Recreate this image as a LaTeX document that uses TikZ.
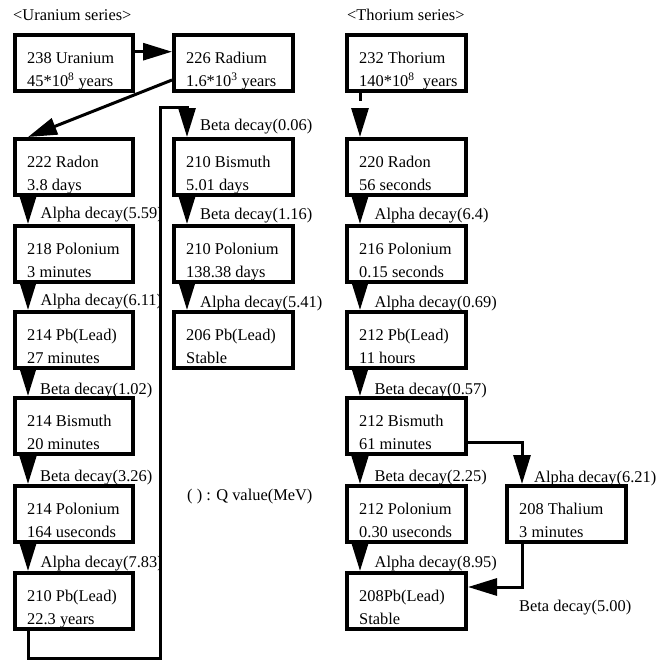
\documentclass[tikz,border=0pt]{standalone}
\usepackage{fontspec}
\setmainfont{Liberation Serif}
\usetikzlibrary{arrows.meta,calc}
\newcommand\nucbox[6]{%
  \node[box, minimum width=#4] (#1) at (#2,#3) {};
  \node[txt] (#1-a) at ($(#1.north west)+(14,30.5)$) {#5};
  \node[txt] (#1-b) at ($(#1.north west)+(14,53.5)$) {#6};
}
\newcommand\vdown[3]{\draw[conn] ($(#1.south west)+(#3,0)$) -- ($(#2.north west)+(#3,0)$);}
\begin{document}
\begin{tikzpicture}[x=1pt,y=-1pt,
  box/.style={draw, line width=4pt, outer sep=2pt, inner sep=0pt, anchor=north west, minimum height=56pt},
  txt/.style={inner sep=0pt, anchor=base west, font=\fontsize{16.4}{19}\selectfont},
  conn/.style={line width=3pt, -{Triangle[length=29pt,width=17pt]}, line join=miter},
]
\useasboundingbox (0,0) rectangle (656,662);

% headers
\node[txt] (hu) at (13,20.5) {<Uranium series>};
\node[txt] (ht) at (347,20.5) {<Thorium series>};

% uranium series
\nucbox{u238}{13}{33}{118}{238 Uranium}{45*10\textsuperscript{8} years}
\nucbox{rn222}{13}{137}{118}{222 Radon}{3.8 days}
\nucbox{po218}{13}{224}{118}{218 Polonium}{3 minutes}
\nucbox{pb214}{13}{310}{118}{214 Pb(Lead)}{27 minutes}
\nucbox{bi214}{13}{396}{118}{214 Bismuth}{20 minutes}
\nucbox{po214}{13}{484}{118}{214 Polonium}{164 useconds}
\nucbox{pb210}{13}{571}{118}{210 Pb(Lead)}{22.3 years}
\nucbox{ra226}{172}{33}{119}{226 Radium}{1.6*10\textsuperscript{3} years}
\nucbox{bi210}{172}{137}{119}{210 Bismuth}{5.01 days}
\nucbox{po210}{172}{224}{119}{210 Polonium}{138.38 days}
\nucbox{pb206}{172}{310}{119}{206 Pb(Lead)}{Stable}

% thorium series
\nucbox{th232}{345}{33}{119}{232 Thorium}{140*10\textsuperscript{8} \ years}
\nucbox{rn220}{345}{137}{119}{220 Radon}{56 seconds}
\nucbox{po216}{345}{224}{119}{216 Polonium}{0.15 seconds}
\nucbox{pb212}{345}{310}{119}{212 Pb(Lead)}{11 hours}
\nucbox{bi212}{345}{396}{119}{212 Bismuth}{61 minutes}
\nucbox{po212}{345}{484}{119}{212 Polonium}{0.30 useconds}
\nucbox{pb208}{345}{571}{119}{208Pb(Lead)}{Stable}
\nucbox{tl208}{505}{484}{119}{208 Thalium}{3 minutes}

% labels
\node[txt] (l1) at (40.5,218) {Alpha decay(5.59)};
\node[txt] (l2) at (40.5,305) {Alpha decay(6.11)};
\node[txt] (l3) at (40,394) {Beta decay(1.02)};
\node[txt] (l4) at (40,481.5) {Beta decay(3.26)};
\node[txt] (l5) at (40.5,567) {Alpha decay(7.83)};
\node[txt] (l6) at (200,130) {Beta decay(0.06)};
\node[txt] (l7) at (200,219) {Beta decay(1.16)};
\node[txt] (l8) at (200,307.5) {Alpha decay(5.41)};
\node[txt] (l9) at (374.5,219.5) {Alpha decay(6.4)};
\node[txt] (l10) at (374.5,307) {Alpha decay(0.69)};
\node[txt] (l11) at (374.5,394) {Beta decay(0.57)};
\node[txt] (l12) at (374.5,481.5) {Beta decay(2.25)};
\node[txt] (l13) at (374.5,567.5) {Alpha decay(8.95)};
\node[txt] (l14) at (534,482) {Alpha decay(6.21)};
\node[txt] (l15) at (519,611.5) {Beta decay(5.00)};
\node[txt] (note) at (187,500.5) {( ) : Q value(MeV)};

% connectors
\draw[conn] ($(u238.north east)+(0,18.7)$) -- ($(ra226.north west)+(0,18.7)$);
\draw[conn] ($(ra226.north west)+(0,47)$) -- ($(rn222.north west)+(15,0)$);
\vdown{rn222}{po218}{15}
\vdown{po218}{pb214}{15}
\vdown{pb214}{bi214}{15}
\vdown{bi214}{po214}{15}
\vdown{po214}{pb210}{15}
\vdown{bi210}{po210}{15}
\vdown{po210}{pb206}{15}
\coordinate (loopturn) at (160,107);
\draw[conn] ($(pb210.south west)+(15,0)$) -- ++(0,27) -| (loopturn) -| ($(bi210.north west)+(15,0)$);
\draw[conn, dash pattern=on 8pt off 30pt] ($(th232.south west)+(15,0)$) -- ($(rn220.north west)+(15,0)$);
\vdown{rn220}{po216}{15}
\vdown{po216}{pb212}{15}
\vdown{pb212}{bi212}{15}
\vdown{bi212}{po212}{15}
\vdown{po212}{pb208}{15}
\draw[conn] ($(bi212.north east)+(0,46)$) -| ($(tl208.north west)+(17,0)$);
\draw[conn] ($(tl208.south west)+(17,0)$) |- ($(pb208.north east)+(0,16)$);
\end{tikzpicture}
\end{document}
